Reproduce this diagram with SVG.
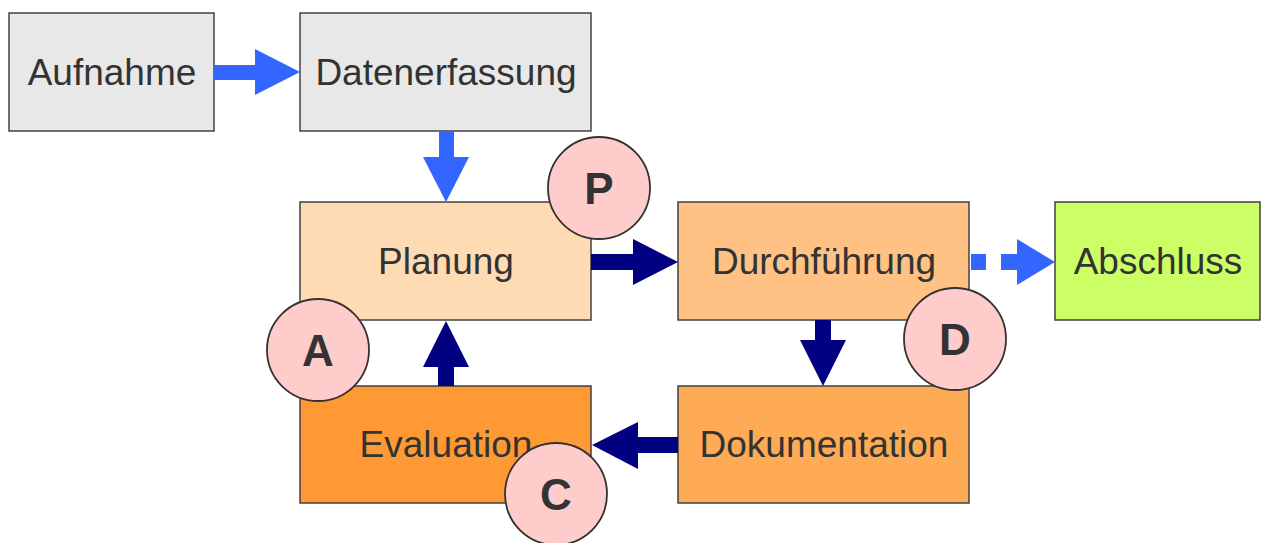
<svg xmlns="http://www.w3.org/2000/svg" width="1264" height="543" viewBox="0 0 1264 543">
<style>
.box{stroke:#404040;stroke-width:1.5}
.lbl{font-family:"Liberation Sans",Arial,sans-serif;font-size:37px;fill:#333333;text-anchor:middle}
.badge{fill:#ffcccc;stroke:#333333;stroke-width:1.8}
.bl{font-family:"Liberation Sans",Arial,sans-serif;font-size:44px;font-weight:bold;fill:#333333;text-anchor:middle}
.blue{fill:#3366ff}
.navy{fill:#000080}
</style>
<rect width="1264" height="543" fill="#ffffff"/>
<g id="aufnahme"><rect class="box" x="9" y="13" width="205" height="118" fill="#e8e8e8"/><text class="lbl" x="112" y="85">Aufnahme</text></g>
<g id="datenerfassung"><rect class="box" x="300" y="13" width="291" height="118" fill="#e8e8e8"/><text class="lbl" x="446" y="85">Datenerfassung</text></g>
<g id="planung"><rect class="box" x="300" y="202" width="291" height="118" fill="#ffdbb4"/><text class="lbl" x="446" y="274">Planung</text></g>
<g id="durchfuehrung"><rect class="box" x="678" y="202" width="291" height="118" fill="#ffc184"/><text class="lbl" x="824" y="274">Durchführung</text></g>
<g id="abschluss"><rect class="box" x="1055" y="202" width="205" height="118" fill="#ccff66"/><text class="lbl" x="1158" y="274">Abschluss</text></g>
<g id="evaluation"><rect class="box" x="300" y="386" width="291" height="117" fill="#ff9933"/><text class="lbl" x="446" y="457">Evaluation</text></g>
<g id="dokumentation"><rect class="box" x="678" y="386" width="291" height="117" fill="#ffaa55"/><text class="lbl" x="824" y="457">Dokumentation</text></g>
<g id="connectors">
<polygon class="blue" points="214,65 255,65 255,49 300,72 255,95 255,80 214,80"/>
<polygon class="blue" points="439,131 454,131 454,157 469,157 446,202 423,157 439,157"/>
<polygon class="navy" points="591,254 633,254 633,239 678,262 633,285 633,270 591,270"/>
<g class="blue"><rect x="971" y="254" width="15" height="16"/><rect x="1001" y="254" width="16" height="16"/><polygon points="1017,239 1055,262 1017,285"/></g>
<polygon class="navy" points="815,320 831,320 831,340 846,340 823,386 800,340 815,340"/>
<polygon class="navy" points="678,437 638,437 638,422 592,445 638,469 638,453 678,453"/>
<polygon class="navy" points="438,386 454,386 454,367 469,367 446,321 423,367 438,367"/>
</g>
<g id="badge-p"><circle class="badge" cx="599" cy="188" r="51"/><text class="bl" x="599" y="204">P</text></g>
<g id="badge-a"><circle class="badge" cx="318" cy="350" r="51"/><text class="bl" x="318" y="366">A</text></g>
<g id="badge-c"><circle class="badge" cx="556" cy="494" r="51"/><text class="bl" x="556" y="510">C</text></g>
<g id="badge-d"><circle class="badge" cx="955" cy="339" r="51"/><text class="bl" x="955" y="355">D</text></g>
</svg>
